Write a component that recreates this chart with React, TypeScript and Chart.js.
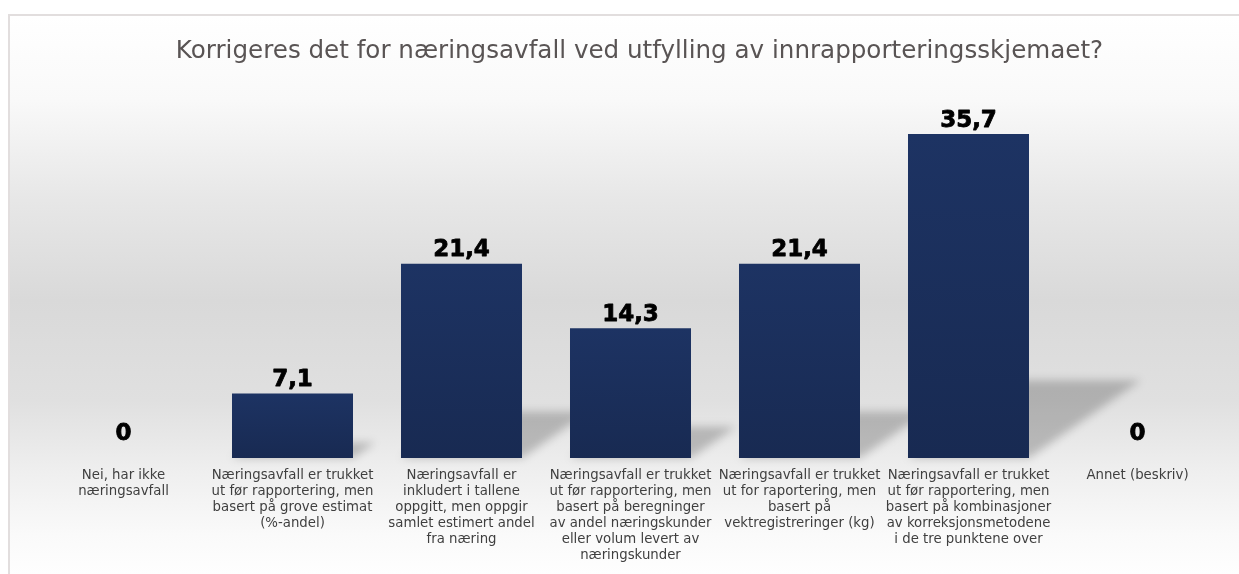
import React, { useEffect, useRef } from "react";
import { Chart, registerables } from "chart.js";

Chart.register(...registerables);

const TITLE = "Korrigeres det for næringsavfall ved utfylling av innrapporteringsskjemaet?";

const categories: string[][] = [
  ["Nei, har ikke", "næringsavfall"],
  ["Næringsavfall er trukket", "ut før rapportering, men", "basert på grove estimat", "(%-andel)"],
  ["Næringsavfall er", "inkludert i tallene", "oppgitt, men oppgir", "samlet estimert andel", "fra næring"],
  ["Næringsavfall er trukket", "ut før rapportering, men", "basert på beregninger", "av andel næringskunder", "eller volum levert av", "næringskunder"],
  ["Næringsavfall er trukket", "ut for raportering, men", "basert på", "vektregistreringer (kg)"],
  ["Næringsavfall er trukket", "ut før rapportering, men", "basert på kombinasjoner", "av korreksjonsmetodene", "i de tre punktene over"],
  ["Annet (beskriv)"],
];

const values: number[] = [0, 7.1, 21.4, 14.3, 21.4, 35.7, 0];

const FONT = "'DejaVu Sans', Verdana, sans-serif";

const titlePlugin = {
  id: "customTitle",
  afterDraw(chart: any) {
    const ctx = chart.ctx;
    ctx.save();
    ctx.font = `24.6px ${FONT}`;
    ctx.fillStyle = "#595454";
    ctx.textAlign = "center";
    ctx.textBaseline = "alphabetic";
    ctx.fillText(TITLE, 629.5, 42);
    ctx.restore();
  },
};

const shadowPlugin = {
  id: "perspectiveShadow",
  beforeDatasetsDraw(chart: any) {
    const ctx = chart.ctx;
    const meta = chart.getDatasetMeta(0);
    ctx.save();
    ctx.filter = "blur(4px)";
    ctx.fillStyle = "rgba(0,0,0,0.21)";
    meta.data.forEach((bar: any) => {
      const h = bar.base - bar.y;
      if (h <= 1) return;
      const left = bar.x - bar.width / 2;
      const right = bar.x + bar.width / 2;
      const hf = 0.24 * h;
      const s = 0.345 * h;
      ctx.beginPath();
      ctx.moveTo(left, bar.base);
      ctx.lineTo(right, bar.base);
      ctx.lineTo(right + s, bar.base - hf);
      ctx.lineTo(left + s, bar.base - hf);
      ctx.closePath();
      ctx.fill();
    });
    ctx.restore();
  },
};

const labelPlugin = {
  id: "valueLabels",
  afterDatasetsDraw(chart: any) {
    const ctx = chart.ctx;
    const meta = chart.getDatasetMeta(0);
    const data = chart.data.datasets[0].data as number[];
    ctx.save();
    ctx.font = `bold 23px ${FONT}`;
    ctx.fillStyle = "#000000";
    ctx.strokeStyle = "#000000";
    ctx.lineWidth = 0.8;
    ctx.lineJoin = "round";
    ctx.textAlign = "center";
    ctx.textBaseline = "alphabetic";
    meta.data.forEach((bar: any, i: number) => {
      const v = data[i];
      const txt = String(v).replace(".", ",");
      const off = v === 0 ? 18 : 7.5;
      ctx.fillText(txt, bar.x, bar.y - off);
      ctx.strokeText(txt, bar.x, bar.y - off);
    });
    ctx.restore();
  },
};

export default function App() {
  const canvasRef = useRef<HTMLCanvasElement | null>(null);

  useEffect(() => {
    if (!canvasRef.current) return;
    const chart = new Chart(canvasRef.current, {
      type: "bar",
      data: {
        labels: categories,
        datasets: [
          {
            data: values,
            barPercentage: 0.716,
            categoryPercentage: 1,
            borderWidth: 0,
            backgroundColor: (c: any) => {
              const ch = c.chart;
              const y = ch.scales && ch.scales.y;
              if (!y || c.type !== "data") return "#1b305c";
              const top = y.getPixelForValue(c.raw);
              const base = y.getPixelForValue(0);
              if (!isFinite(top) || !isFinite(base) || base - top < 1) return "#1b305c";
              const g = ch.ctx.createLinearGradient(0, top, 0, base);
              g.addColorStop(0, "#1d3363");
              g.addColorStop(1, "#182a52");
              return g;
            },
          },
        ],
      },
      options: {
        animation: false,
        responsive: true,
        maintainAspectRatio: false,
        layout: { padding: { left: 29, right: 17, top: 79, bottom: 0 } },
        plugins: {
          legend: { display: false },
          tooltip: { enabled: false },
          title: { display: false },
        },
        scales: {
          x: {
            grid: { display: false, drawTicks: false },
            border: { display: false },
            ticks: {
              color: "#3f3f3f",
              font: { family: FONT, size: 13.3, lineHeight: 16 / 13.3 },
              padding: 10,
              autoSkip: false,
              maxRotation: 0,
              minRotation: 0,
            },
          },
          y: {
            display: false,
            min: 0,
            max: 40,
          },
        },
      },
      plugins: [shadowPlugin, labelPlugin, titlePlugin],
    } as any);
    return () => chart.destroy();
  }, []);

  return (
    <div
      style={{
        position: "fixed",
        left: 8,
        top: 14,
        width: 1231,
        height: 560,
        boxSizing: "border-box",
        borderTop: "2px solid #e2dede",
        borderLeft: "2px solid #e2dede",
        background:
          "linear-gradient(to bottom, #ffffff 0%, #f9f9f9 15%, #e7e7e7 33%, #d9d9d9 51%, #e0e0e0 69%, #eeeeee 81%, #fafafa 93%, #fefefe 100%)",
      }}
    >
      <div style={{ position: "relative", width: 1229, height: 558 }}>
        <canvas ref={canvasRef} />
      </div>
    </div>
  );
}
